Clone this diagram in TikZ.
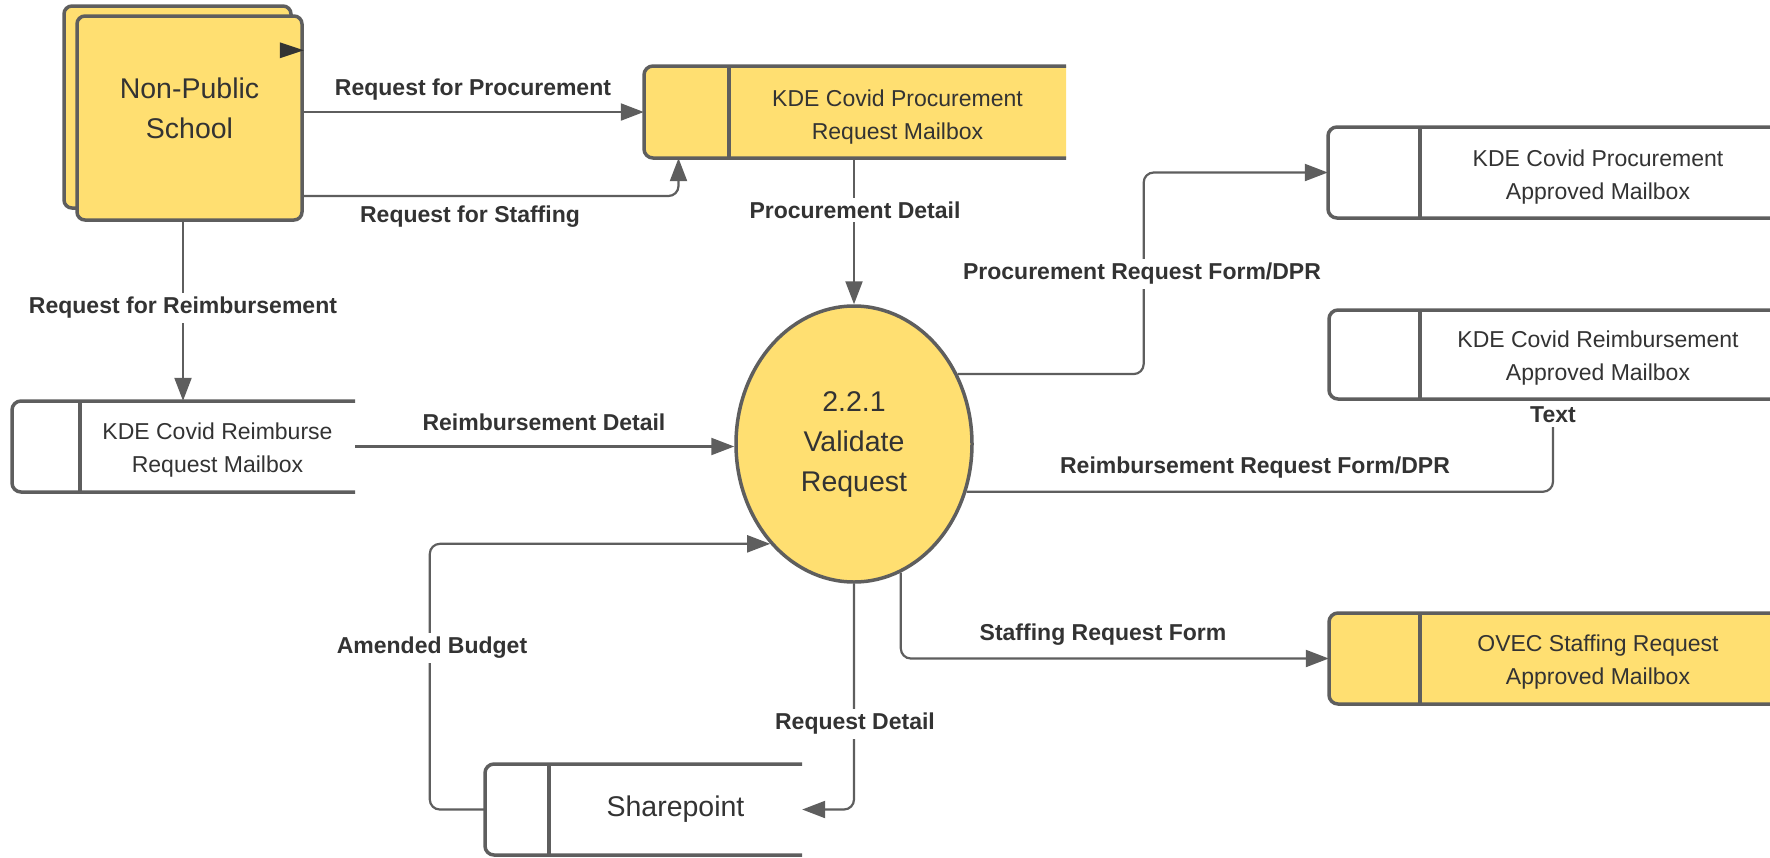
\documentclass[tikz,border=0pt]{standalone}
\usepackage{fontspec}
\setmainfont{Liberation Sans}
\usetikzlibrary{arrows.meta,calc,shapes.geometric}

\definecolor{boxyellow}{HTML}{FFDF71}
\definecolor{edgegray}{HTML}{5E5E5E}
\definecolor{inkgray}{HTML}{333333}

\tikzset{
  outline/.style={draw=edgegray, line width=3.5pt},
  flow/.style={draw=edgegray, line width=2.2pt, rounded corners=10pt,
               -{Triangle[length=23pt,width=17pt]}},
  flowplain/.style={draw=edgegray, line width=2.2pt, rounded corners=10pt},
  storetext/.style={text=inkgray, font=\fontsize{23}{33}\selectfont, align=center},
  bigtext/.style={text=inkgray, font=\fontsize{28.5}{40}\selectfont, align=center},
  flowlabel/.style={text=inkgray, font=\fontsize{23}{28}\selectfont\bfseries, inner sep=4pt},
  onlabel/.style={flowlabel, fill=white},
}

% data store: #1 name, #2 left x, #3 divider x, #4 right x, #5 top y, #6 bottom y,
% #7 fill colour, #8 text, #9 text style
\newcommand\datastore[9]{%
  \filldraw[outline, fill=#7, rounded corners=9pt] (#4,#5) -- (#2,#5) -- (#2,#6) -- (#4,#6);
  \draw[outline] (#3,#5) -- (#3,#6);
  \node[inner sep=0, minimum width={(#4-#3)*1pt}, minimum height={(#6-#5)*1pt}]
    (#1) at ({(#3+#4)/2},{(#5+#6)/2}) {};
  \node[#9] (#1-text) at (#1.center) {#8};
  \node[inner sep=0, minimum width={(#3-#2)*1pt}, minimum height={(#6-#5)*1pt}]
    (#1-cell) at ({(#2+#3)/2},{(#5+#6)/2}) {};
}

\begin{document}
\begin{tikzpicture}[x=1pt,y=-1pt]
\useasboundingbox (0,0) rectangle (1770,857);
\clip (0,0) rectangle (1770,857);

% external entity (stacked boxes)
\node[outline, fill=boxyellow, rounded corners=8pt, inner sep=0,
      minimum width=227pt, minimum height=202pt] (nps-back) at (177.5,107) {};
\node[outline, fill=boxyellow, rounded corners=8pt, inner sep=0,
      minimum width=225pt, minimum height=204pt] (nps) at (189.5,118) {};
\node[bigtext] (nps-text) at (189.5,108) {Non-Public\\School};
\fill[inkgray] ($(nps.north east)+(0,36)$) -- ++(-24,-8) -- ++(0,16) -- cycle;

% data stores
\datastore{P}{644}{729}{1066}{66}{158}{boxyellow}{KDE Covid Procurement\\Request Mailbox}{storetext, yshift=-5pt}
\datastore{R}{12}{80}{355}{401}{492}{white}{KDE Covid Reimburse\\Request Mailbox}{storetext, yshift=-4pt}
\datastore{PA}{1328}{1420}{1776}{127}{218}{white}{KDE Covid Procurement\\Approved Mailbox}{storetext, yshift=-5pt}
\datastore{RA}{1329}{1420}{1776}{310}{399}{white}{KDE Covid Reimbursement\\Approved Mailbox}{storetext, yshift=-4pt}
\datastore{OV}{1329}{1420}{1776}{613}{704}{boxyellow}{OVEC Staffing Request\\Approved Mailbox}{storetext, yshift=-4pt}
\datastore{SP}{485}{549}{802}{764}{855}{white}{Sharepoint}{bigtext}

% process
\node[ellipse, outline, fill=boxyellow, inner sep=0, minimum width=236pt,
      minimum height=276pt, bigtext] (V) at (854,444) {2.2.1\\Validate\\Request};

\node[flowlabel] (txt) at (1553,415) {Text};

% flows
\draw[flow] (nps.east |- P-cell.west) -- (P-cell.west);
\draw[flow] ([yshift=-78pt]nps.east) -| ([xshift=-8pt]P-cell.south);
\draw[flow] ([xshift=-6.5pt]nps.south) -- ([xshift=-6.5pt]nps.south |- R.north);
\draw[flow] (V.north |- P.south) -- (V.north);
\draw[flow] (R.east) -- (V.west |- R.east);
\draw[flow] (V.34) -- ++(186,0) |- (PA-cell.west);
\draw[flowplain] (V.-23) -| (txt.south);
\draw[flow] (V.-70) |- (OV-cell.west);
\draw[flow] (V.south) |- (SP.east);
\draw[flow] (SP-cell.west) -- ++(-55,0) |- (V.230);

% flow labels
\node[flowlabel] (l1) at (473,90) {Request for Procurement};
\node[flowlabel] (l2) at (470,217) {Request for Staffing};
\node[onlabel] (l3) at (183,308) {Request for Reimbursement};
\node[onlabel] (l4) at (855,210) {Procurement Detail};
\node[flowlabel] (l5) at (544,422) {Reimbursement Detail};
\node[onlabel] (l6) at (1142,274) {Procurement Request Form/DPR};
\node[flowlabel] (l7) at (1255,468) {Reimbursement Request Form/DPR};
\node[flowlabel] (l8) at (1103,635) {Staffing Request Form};
\node[onlabel] (l9) at (855,724) {Request Detail};
\node[onlabel] (l10) at (432,648) {Amended Budget};
\end{tikzpicture}
\end{document}
